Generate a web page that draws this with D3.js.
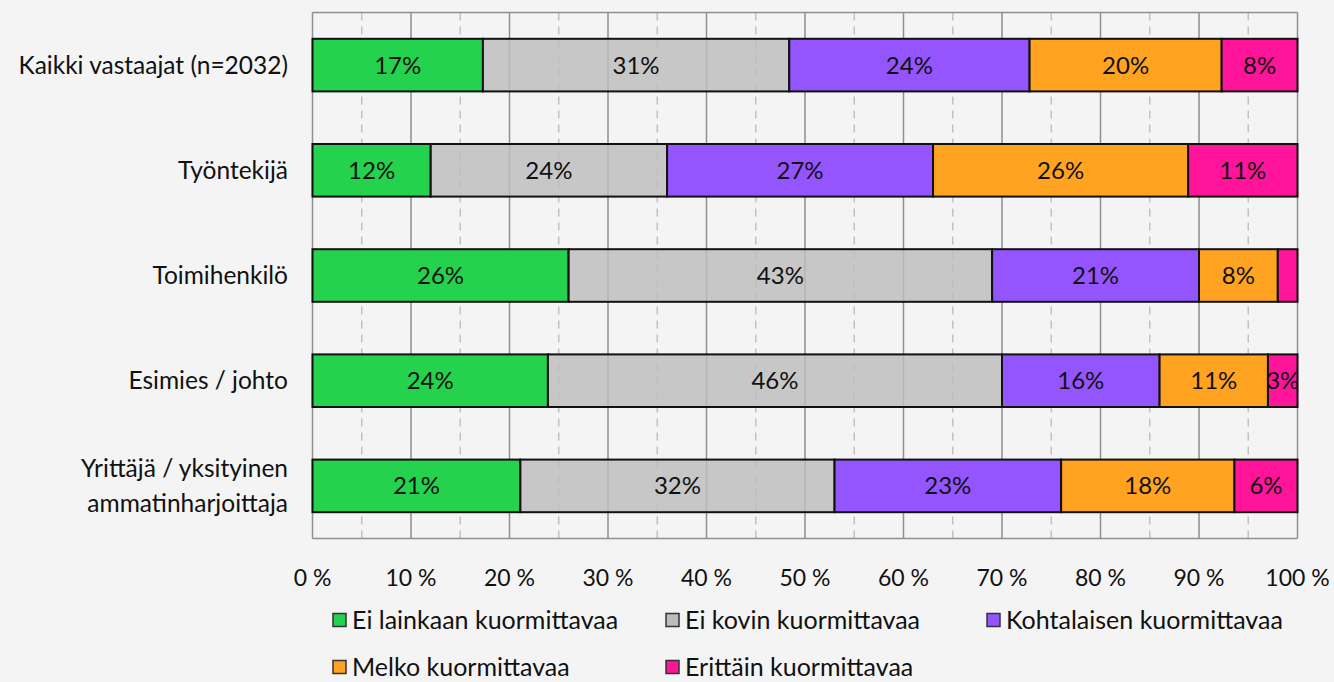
<!DOCTYPE html>
<html><head><meta charset="utf-8">
<script src="https://cdn.jsdelivr.net/npm/d3@7"></script>
<style>
html,body{margin:0;padding:0;background:#f4f4f4;}
svg{display:block;font-family:"Lato","Open Sans",sans-serif;}
</style></head>
<body><svg id="c" width="1334" height="682"></svg>
<script>
const categories = ["Kaikki vastaajat (n=2032)", "Työntekijä", "Toimihenkilö", "Esimies / johto", "Yrittäjä / yksityinen\nammatinharjoittaja"];
const seriesNames = ["Ei lainkaan kuormittavaa", "Ei kovin kuormittavaa", "Kohtalaisen kuormittavaa", "Melko kuormittavaa", "Erittäin kuormittavaa"];
const seriesColors = ["#25d24d", "#bdbdbd", "#9455ff", "#ffa321", "#ff149a"];
const eiLainkaan = [17.3, 12.0, 26.0, 23.9, 21.1];
const eiKovin = [31.1, 24.0, 43.0, 46.1, 31.9];
const kohtalaisen = [24.4, 27.0, 21.0, 16.0, 23.0];
const melko = [19.5, 25.9, 8.0, 11.0, 17.6];
const erittain = [7.7, 11.1, 2.0, 3.0, 6.4];
const labels = [
  ["17%", "31%", "24%", "20%", "8%"],
  ["12%", "24%", "27%", "26%", "11%"],
  ["26%", "43%", "21%", "8%", ""],
  ["24%", "46%", "16%", "11%", "3%"],
  ["21%", "32%", "23%", "18%", "6%"]
];
const xTicks = [0, 10, 20, 30, 40, 50, 60, 70, 80, 90, 100];

const seriesValues = [eiLainkaan, eiKovin, kohtalaisen, melko, erittain];
const svg = d3.select("#c");
const pLeft = 312.5, pRight = 1297.5, pTop = 12.5, pBottom = 538.5;
const x = d3.scaleLinear().domain([0, 100]).range([pLeft, pRight]);
const y = d3.scaleBand().domain(d3.range(categories.length)).range([pTop, pBottom]).paddingInner(0.5).paddingOuter(0.25);

// grid
const g = svg.append("g");
g.selectAll(".minor").data(d3.range(5, 100, 10)).join("line")
  .attr("x1", d => x(d)).attr("x2", d => x(d)).attr("y1", pTop).attr("y2", pBottom)
  .attr("stroke", "#c2c2c2").attr("stroke-width", 1.5).attr("stroke-dasharray", "8,6");
g.selectAll(".major").data(xTicks).join("line")
  .attr("x1", d => x(d)).attr("x2", d => x(d)).attr("y1", pTop).attr("y2", pBottom)
  .attr("stroke", "#8f8f8f").attr("stroke-width", 1.5);
g.append("line").attr("x1", pLeft).attr("x2", pRight).attr("y1", pTop).attr("y2", pTop).attr("stroke", "#8f8f8f").attr("stroke-width", 1.5);
g.append("line").attr("x1", pLeft).attr("x2", pRight).attr("y1", pBottom).attr("y2", pBottom).attr("stroke", "#8f8f8f").attr("stroke-width", 1.5);

// stack
const rows = categories.map((c, i) => {
  const o = {};
  seriesNames.forEach((s, j) => o[s] = seriesValues[j][i]);
  return o;
});
const stack = d3.stack().keys(seriesNames)(rows);
const defs = svg.append("defs");
stack.forEach((layer, j) => {
  layer.forEach((d, i) => {
    const x0 = x(d[0]), x1 = x(d[1]), yy = y(i), h = y.bandwidth();
    const id = "clip" + j + "_" + i;
    defs.append("clipPath").attr("id", id).append("rect").attr("x", x0).attr("y", yy).attr("width", x1 - x0).attr("height", h);
    svg.append("rect").attr("x", x0).attr("y", yy).attr("width", x1 - x0).attr("height", h)
      .attr("fill", seriesColors[j]).attr("fill-opacity", j === 1 ? 0.82 : 1)
      .attr("stroke", "#111").attr("stroke-width", 2);
    const t = labels[i][j];
    if (t) {
      svg.append("text").attr("clip-path", "url(#" + id + ")")
        .attr("x", (x0 + x1) / 2).attr("y", yy + h / 2).attr("dy", "0.35em")
        .attr("text-anchor", "middle").attr("font-size", 24).attr("fill", "#111").text(t);
    }
  });
});

// y labels
categories.forEach((c, i) => {
  const lines = c.split("\n");
  const cy = y(i) + y.bandwidth() / 2;
  const t = svg.append("text").attr("text-anchor", "end").attr("font-size", 24.5).attr("fill", "#111");
  lines.forEach((ln, k) => {
    t.append("tspan").attr("x", 288).attr("y", cy + (k - (lines.length - 1) / 2) * 35).attr("dy", "0.35em").text(ln);
  });
});

// x axis labels
svg.selectAll(".xl").data(xTicks).join("text")
  .attr("x", d => x(d)).attr("y", 578).attr("dy", "0.35em").attr("text-anchor", "middle")
  .attr("font-size", 23).attr("fill", "#111").text(d => d + " %");

// legend
const legendPos = [[333, 620], [666, 620], [987, 620], [333, 667], [666, 667]];
seriesNames.forEach((s, j) => {
  const [lx, ly] = legendPos[j];
  svg.append("rect").attr("x", lx).attr("y", ly - 6.5).attr("width", 13).attr("height", 13)
    .attr("fill", seriesColors[j]).attr("stroke", "#333").attr("stroke-width", 1.5);
  svg.append("text").attr("x", lx + 19).attr("y", ly).attr("dy", "0.35em").attr("font-size", 25).attr("fill", "#111").text(s);
});
</script></body></html>
